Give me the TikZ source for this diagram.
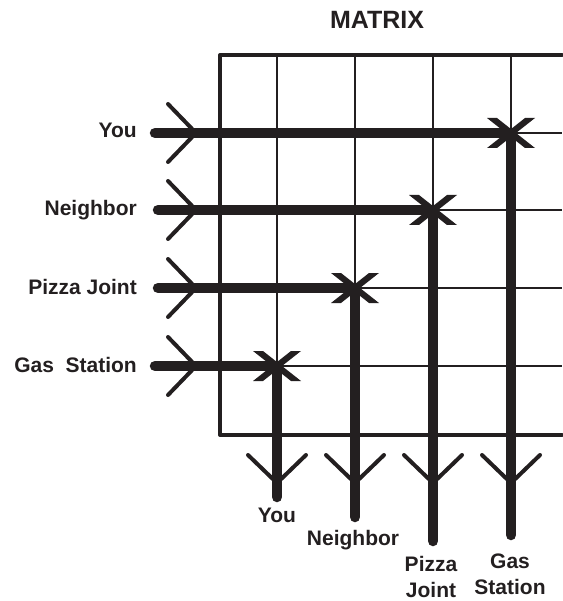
\documentclass[tikz,border=0pt]{standalone}
\usepackage{fontspec}
\setmainfont{Liberation Sans}
\usetikzlibrary{calc}
\definecolor{ink}{HTML}{231F20}
\tikzset{
  thin grid/.style={draw=ink, line width=2.3pt},
  frame/.style={draw=ink, line width=4pt, line join=round, line cap=round},
  signal/.style={draw=ink, line width=10.5pt, line cap=round},
  chevline/.style={draw=ink, line width=4pt, line cap=round, line join=miter},
  lbl/.style={text=ink, font=\bfseries\fontsize{21}{25.5}\selectfont, inner sep=0pt, align=center},
  ttl/.style={text=ink, font=\bfseries\fontsize{25}{30}\selectfont, inner sep=0pt},
  rchev/.pic={\draw[chevline] (-28,-29) -- (0,0) -- (-28,29);},
  dchev/.pic={\draw[chevline] (-29,-28) -- (0,0) -- (29,-28);},
  xmark/.pic={
    \fill[ink] (-24,-15) -- (-14,-15) -- (24,15) -- (14,15) -- cycle;
    \fill[ink] (24,-15) -- (14,-15) -- (-24,15) -- (-14,15) -- cycle;}
}
\begin{document}
\begin{tikzpicture}[x=1pt,y=-1pt]
\useasboundingbox (0,0) rectangle (562,601);
% title
\node[ttl, anchor=base] (title) at (377,29) {MATRIX};
% thin grid
\foreach \yy in {133,210,288,366} \draw[thin grid] (220,\yy) -- (562,\yy);
\foreach \xx in {277,355,433,511} \draw[thin grid] (\xx,55) -- (\xx,435);
% frame
\draw[frame] (562,55) -- (220,55) -- (220,435) -- (562,435);
% coordinates
\coordinate (s1) at (155,133); \coordinate (x1) at (511,133); \coordinate (e1) at (511,535);
\coordinate (s2) at (158,210); \coordinate (x2) at (433,210); \coordinate (e2) at (433,541);
\coordinate (s3) at (158,288); \coordinate (x3) at (355,288); \coordinate (e3) at (355,517);
\coordinate (s4) at (155,366); \coordinate (x4) at (277,366); \coordinate (e4) at (277,497);
% signal lines
\draw[signal] (s1) -- (x1) -- (e1);
\draw[signal] (s2) -- (x2) -- (e2);
\draw[signal] (s3) -- (x3) -- (e3);
\draw[signal] (s4) -- (x4) -- (e4);
% crossings
\foreach \c in {x1,x2,x3,x4} \pic at (\c) {xmark};
% input chevrons
\foreach \yy in {133,210,288,366} \pic at (196,\yy) {rchev};
% output chevrons
\foreach \xx in {277,355,433,511} \pic at (\xx,483) {dchev};
% left labels
\node[lbl, anchor=base east] (lyou) at (137,138) {You};
\node[lbl, anchor=base east] (lnei) at (137,216) {Neighbor};
\node[lbl, anchor=base east] (lpiz) at (137,294) {Pizza Joint};
\node[lbl, anchor=base east] (lgas) at (137,372) {Gas~ Station};
% bottom labels
\node[lbl, anchor=base] (byou) at (277,522.5) {You};
\node[lbl, anchor=base] (bnei) at (353,545) {Neighbor};
\node[lbl, anchor=base] (bpiz) at (431,597) {Pizza\\Joint};
\node[lbl, anchor=base] (bgas) at (510,594) {Gas\\Station};
\end{tikzpicture}
\end{document}
